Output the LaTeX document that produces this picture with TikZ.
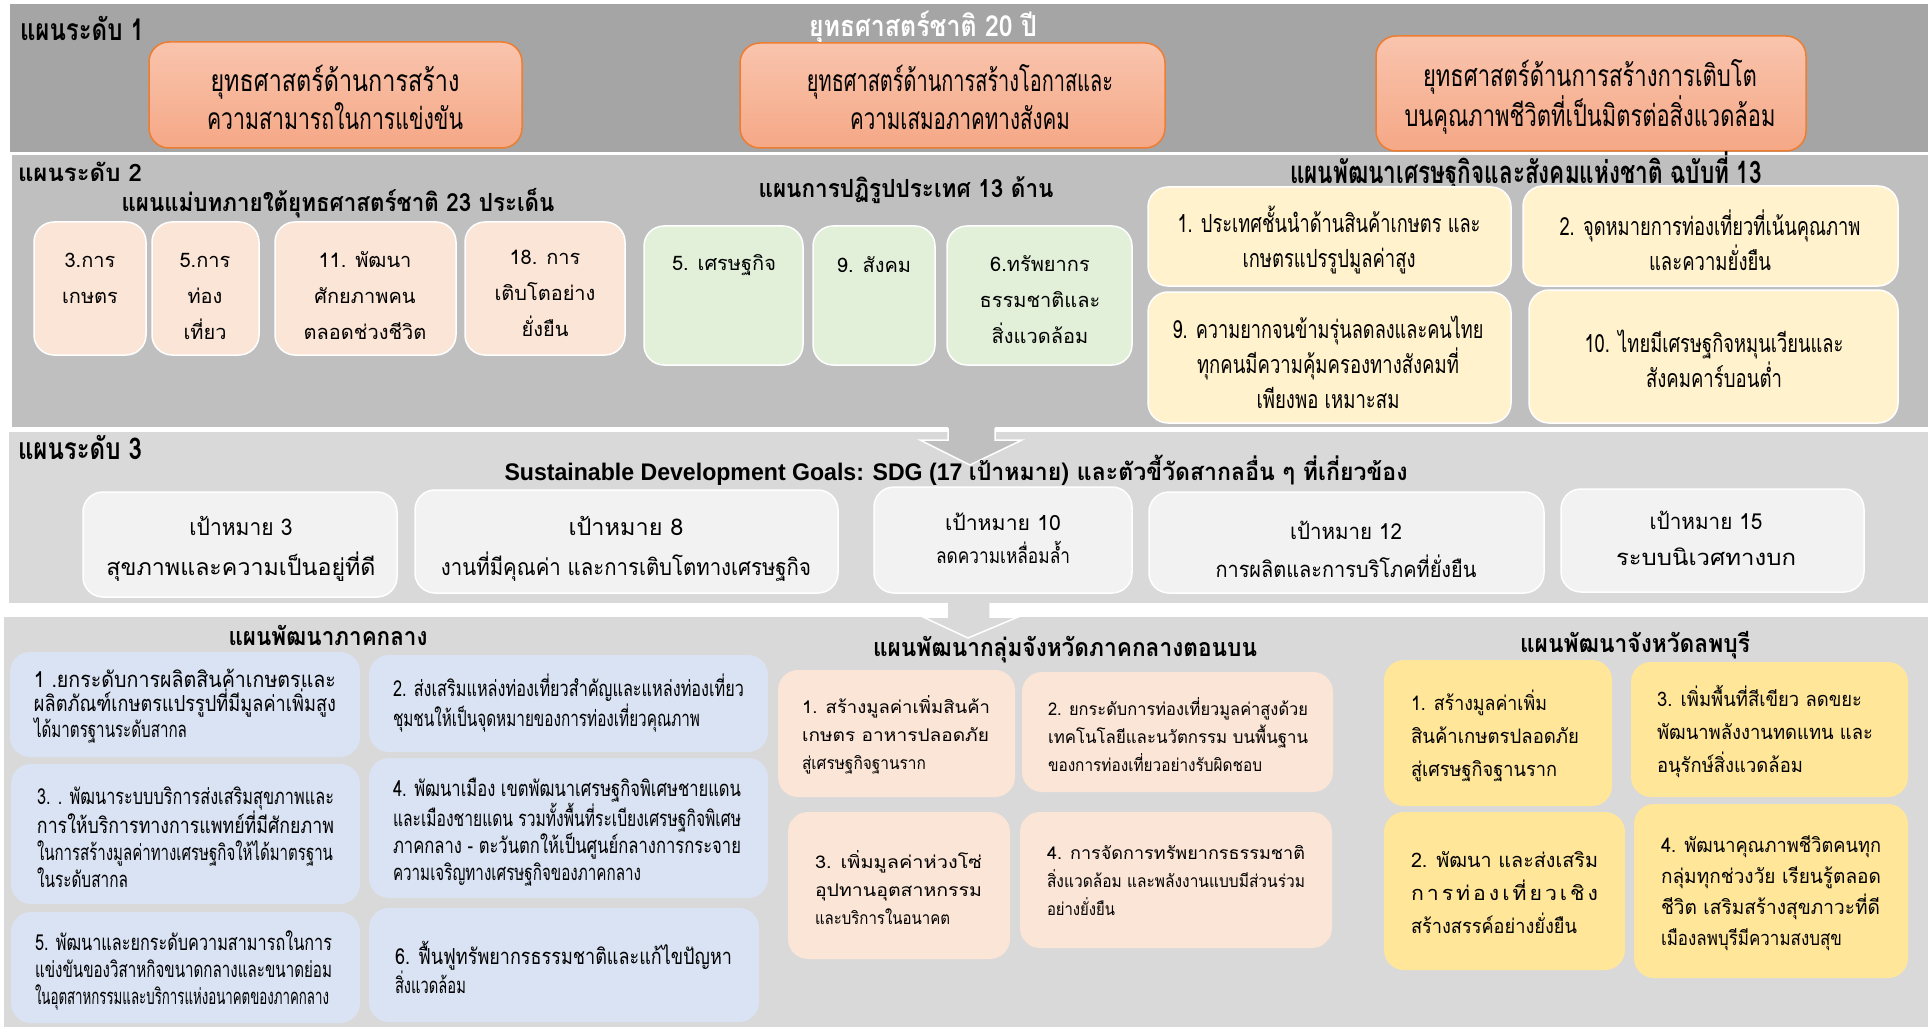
\documentclass[tikz,border=0pt]{standalone}
\usepackage{graphicx}
\usepackage{fontspec}
\setmainfont{Liberation Sans}
\newfontfamily\thR[Script=Thai]{Loma}
\newfontfamily\thN[Script=Thai,FakeStretch=0.8]{Loma}
\newfontfamily\thC[Script=Thai,FakeStretch=0.7]{Loma}
\newfontfamily\latS{Liberation Sans}
\newcommand\fn[3]{#1\fontsize{#2}{#3}\selectfont}
\newcommand\jl[2]{\resizebox{#1pt}{\height}{#2}}
\definecolor{lvA}{HTML}{A5A5A5}
\definecolor{lvB}{HTML}{BFBFBF}
\definecolor{lvC}{HTML}{D9D9D9}
\definecolor{orgline}{HTML}{ED7D31}
\definecolor{orgtop}{HTML}{F9C4AD}
\definecolor{orgbot}{HTML}{F5A886}
\definecolor{peach}{HTML}{FBE5D6}
\definecolor{greenc}{HTML}{E2F0D9}
\definecolor{yel}{HTML}{FFF2CC}
\definecolor{sdgc}{HTML}{F2F2F2}
\definecolor{bluec}{HTML}{DAE3F3}
\definecolor{gold}{HTML}{FFE699}
\newcommand\B[6]{\node[#2, minimum width=#5pt-#3pt, minimum height=#6pt-#4pt] (#1) at (#3,#4) {};}
\tikzset{
  band/.style={draw=none, inner sep=0pt, outer sep=0pt, anchor=north west},
  bx/.style={rounded corners=20pt, inner sep=0pt, outer sep=0pt, anchor=north west},
  obox/.style={bx, draw=orgline, line width=1.5pt, top color=orgtop, bottom color=orgbot},
  pbox/.style={bx, fill=peach, draw=white, line width=1.5pt},
  gbox/.style={bx, fill=greenc, draw=white, line width=1.5pt},
  ybox/.style={bx, fill=yel, draw=white, line width=1.5pt},
  sbox/.style={bx, fill=sdgc, draw=white, line width=1.5pt},
  bbox/.style={bx, fill=bluec},
  cbox/.style={bx, fill=peach},
  dbox/.style={bx, fill=gold},
  tx/.style={inner sep=0pt, outer sep=0pt, text=black},
  lt/.style={tx, anchor=west, align=left},
  ct/.style={tx, align=center},
  lv1txt/.style={ct, font={\fn\thN{30}{38}}},
  lv2txt/.style={ct, font={\fn\thR{20}{36}}},
  ytxt/.style={ct, font={\fn\thN{25}{35}}},
  s3txt/.style={ct, font={\fn\thR{22}{36}}},
  btxt/.style={lt, font={\fn\thC{22}{27}}},
  ctxt/.style={lt, font={\fn\thR{17.5}{28}}},
  dtxt/.style={lt, font={\fn\thR{20}{33}}},
  ttl/.style={tx, font={\fn\thR{25}{30}\bfseries}},
  lvlab/.style={tx, anchor=west, font={\fn\thN{30}{36}\bfseries}},
}
\begin{document}
\begin{tikzpicture}[x=1pt,y=-1pt]
\useasboundingbox (0,0) rectangle (1928,1027);
\fill[white] (0,0) rectangle (1928,1027);
% bands
\node[band, fill=lvA, minimum width=1918pt, minimum height=148pt] (L1) at (10,4) {};
\node[band, fill=lvB, minimum width=1916pt, minimum height=272pt] (L2) at (12,155) {};
\node[band, fill=lvC, minimum width=1919pt, minimum height=171pt] (L3) at (9,432) {};
\node[band, fill=lvC, minimum width=1924pt, minimum height=410pt] (L4) at (4,617) {};
% block arrows
\fill[lvB] (948,424) -- (948,440) -- (920,440) -- (970,465) -- (1022,440) -- (995,440) -- (995,424) -- cycle;
\draw[white, line width=1.5pt] (948,428) -- (948,440) -- (920,440) -- (970,465) -- (1022,440) -- (995,440) -- (995,428);
\fill[lvC] (947,600) -- (947,617) -- (923,617) -- (968,638) -- (1018,617) -- (990,617) -- (990,600) -- cycle;
\draw[white, line width=1.5pt] (947,603) -- (947,617) -- (923,617) -- (968,638) -- (1018,617) -- (990,617) -- (990,603);

% ---------- level 1
\node[lvlab] (lab1) at (20,28) {แผนระดับ 1};
\node[tx, text=white, font={\fn\thN{29}{36}\bfseries}] (tit1) at (923,28) {\jl{228}{ยุทธศาสตร์ชาติ 20 ปี}};
\B{a1}{obox}{149}{42}{522}{148}
\node[lv1txt] (a1t) at (335,97) {\jl{249}{ยุทธศาสตร์ด้านการสร้าง}\\\jl{256}{ความสามารถในการแข่งขัน}};
\B{a2}{obox}{740}{43}{1165}{148}
\node[lv1txt] (a2t) at (960,97) {\jl{306}{ยุทธศาสตร์ด้านการสร้างโอกาสและ}\\\jl{220}{ความเสมอภาคทางสังคม}};
\B{a3}{obox}{1376}{36}{1806}{151}
\node[lv1txt] (a3t) at (1590,97) {\jl{334}{ยุทธศาสตร์ด้านการสร้างการเติบโต}\\\jl{371}{บนคุณภาพชีวิตที่เป็นมิตรต่อสิ่งแวดล้อม}};

% ---------- level 2
\node[ttl, anchor=west, font={\fn\thR{24}{28}\bfseries}] (lab2) at (18,172) {แผนระดับ 2};
\node[ttl] (tm) at (338,203) {\jl{433}{แผนแม่บทภายใต้ยุทธศาสตร์ชาติ 23 ประเด็น}};
\B{p1}{pbox}{34}{222}{146}{355}
\node[lv2txt] (p1t) at (90,278) {3.การ\\เกษตร};
\B{p2}{pbox}{152}{222}{259}{355}
\node[lv2txt] (p2t) at (205,296) {5.การ\\ท่อง\\เที่ยว};
\B{p3}{pbox}{275}{222}{456}{355}
\node[lv2txt] (p3t) at (365,296) {11. พัฒนา\\ศักยภาพคน\\ตลอดช่วงชีวิต};
\B{p4}{pbox}{465}{222}{625}{355}
\node[lv2txt] (p4t) at (545,293) {18. การ\\เติบโตอย่าง\\ยั่งยืน};

\node[ttl] (tr) at (906,190) {\jl{295}{แผนการปฏิรูปประเทศ 13 ด้าน}};
\B{g1}{gbox}{644}{226}{803}{365}
\node[lv2txt] (g1t) at (724,265) {5. เศรษฐกิจ};
\B{g2}{gbox}{813}{226}{935}{365}
\node[lv2txt] (g2t) at (874,265) {9. สังคม};
\B{g3}{gbox}{947}{226}{1132}{365}
\node[lv2txt] (g3t) at (1040,300) {6.ทรัพยากร\\ธรรมชาติและ\\สิ่งแวดล้อม};

\node[tx, font={\fn\thN{31}{36}\bfseries}] (tn) at (1526,172) {\jl{472}{แผนพัฒนาเศรษฐกิจและสังคมแห่งชาติ ฉบับที่ 13}};
\B{y1}{ybox}{1148}{187}{1511}{286}
\node[ytxt] (y1t) at (1329,240) {\jl{303}{1. ประเทศชั้นนำด้านสินค้าเกษตร และ}\\\jl{173}{เกษตรแปรรูปมูลค่าสูง}};
\B{y2}{ybox}{1523}{186}{1898}{286}
\node[ytxt] (y2t) at (1710,240) {\jl{301}{2. จุดหมายการท่องเที่ยวที่เน้นคุณภาพ}\\\jl{122}{และความยั่งยืน}};
\B{y3}{ybox}{1148}{292}{1511}{423}
\node[ytxt] (y3t) at (1328,362) {\jl{311}{9. ความยากจนข้ามรุ่นลดลงและคนไทย}\\\jl{262}{ทุกคนมีความคุ้มครองทางสังคมที่}\\\jl{143}{เพียงพอ เหมาะสม}};
\B{y4}{ybox}{1529}{290}{1898}{423}
\node[ytxt] (y4t) at (1714,359) {\jl{259}{10. ไทยมีเศรษฐกิจหมุนเวียนและ}\\\jl{136}{สังคมคาร์บอนต่ำ}};

% ---------- level 3
\node[lvlab] (lab3) at (18,447) {แผนระดับ 3};
\node[tx, anchor=base, font={\fn\thR{24}{28}\bfseries}] (tsdg) at (956,480) {\jl{903}{{\latS Sustainable Development Goals: SDG (17 }เป้าหมาย) และตัวขี้วัดสากลอื่น ๆ ที่เกี่ยวข้อง}};
\B{q1}{sbox}{83}{492}{397}{597}
\node[s3txt, font={\fn\thR{23}{40}}] (q1t) at (241,549) {\jl{103}{เป้าหมาย 3}\\\jl{269}{สุขภาพและความเป็นอยู่ที่ดี}};
\B{q2}{sbox}{415}{490}{838}{593}
\node[s3txt, font={\fn\thR{23}{40}}] (q2t) at (626,549) {\jl{115}{เป้าหมาย 8}\\\jl{370}{งานที่มีคุณค่า และการเติบโตทางเศรษฐกิจ}};
\B{q3}{sbox}{874}{487}{1132}{593}
\node[s3txt, font={\fn\thR{21}{33}}] (q3t) at (1003,538) {\jl{116}{เป้าหมาย 10}\\\jl{134}{ลดความเหลื่อมล้ำ}};
\B{q4}{sbox}{1149}{492}{1544}{593}
\node[s3txt, font={\fn\thR{22}{38}}] (q4t) at (1346,549) {\jl{112}{เป้าหมาย 12}\\\jl{261}{การผลิตและการบริโภคที่ยั่งยืน}};
\B{q5}{sbox}{1561}{489}{1864}{592}
\node[s3txt] (q5t) at (1706,538) {\jl{113}{เป้าหมาย 15}\\\jl{180}{ระบบนิเวศทางบก}};

% ---------- bottom: central region plan
\node[ttl] (tb1) at (328,635) {\jl{199}{แผนพัฒนาภาคกลาง}};
\B{b1}{bbox}{10}{652}{360}{757}
\node[btxt, font={\fn\thC{22}{24}}] (b1t) at (34,706) {\jl{302}{1 .ยกระดับการผลิตสินค้าเกษตรและ}\\\jl{302}{ผลิตภัณฑ์เกษตรแปรรูปที่มีมูลค่าเพิ่มสูง}\\\jl{153}{ได้มาตรฐานระดับสากล}};
\B{b2}{bbox}{369}{655}{768}{752}
\node[btxt, font={\fn\thC{22}{30}}] (b2t) at (393,703) {\jl{351}{2. ส่งเสริมแหล่งท่องเที่ยวสำคัญและแหล่งท่องเที่ยว}\\\jl{307}{ชุมชนให้เป็นจุดหมายของการท่องเที่ยวคุณภาพ}};
\B{b3}{bbox}{11}{764}{360}{904}
\node[btxt] (b3t) at (37,837) {\jl{297}{3. . พัฒนาระบบบริการส่งเสริมสุขภาพและ}\\\jl{297}{การให้บริการทางการแพทย์ที่มีศักยภาพ}\\\jl{296}{ในการสร้างมูลค่าทางเศรษฐกิจให้ได้มาตรฐาน}\\\jl{91}{ในระดับสากล}};
\B{b4}{bbox}{369}{758}{768}{898}
\node[btxt] (b4t) at (393,832) {\jl{348}{4. พัฒนาเมือง เขตพัฒนาเศรษฐกิจพิเศษชายแดน}\\\jl{348}{และเมืองชายแดน รวมทั้งพื้นที่ระเบียงเศรษฐกิจพิเศษ}\\\jl{348}{ภาคกลาง - ตะวันตกให้เป็นศูนย์กลางการกระจาย}\\\jl{248}{ความเจริญทางเศรษฐกิจของภาคกลาง}};
\B{b5}{bbox}{11}{912}{360}{1023}
\node[btxt] (b5t) at (35,970) {\jl{297}{5. พัฒนาและยกระดับความสามารถในการ}\\\jl{297}{แข่งขันของวิสาหกิจขนาดกลางและขนาดย่อม}\\\jl{294}{ในอุตสาหกรรมและบริการแห่งอนาคตของภาคกลาง}};
\B{b6}{bbox}{369}{908}{759}{1022}
\node[btxt, font={\fn\thC{22}{29}}] (b6t) at (395,967) {\jl{337}{6. ฟื้นฟูทรัพยากรธรรมชาติและแก้ไขปัญหา}\\\jl{71}{สิ่งแวดล้อม}};

% ---------- bottom: upper central provinces group
\node[ttl] (tb2) at (1065,650) {\jl{384}{แผนพัฒนากลุ่มจังหวัดภาคกลางตอนบน}};
\B{c1}{cbox}{778}{670}{1015}{797}
\node[ctxt] (c1t) at (802,735) {\jl{188}{1. สร้างมูลค่าเพิ่มสินค้า}\\\jl{187}{เกษตร อาหารปลอดภัย}\\\jl{124}{สู่เศรษฐกิจฐานราก}};
\B{c2}{cbox}{1022}{672}{1333}{792}
\node[ctxt] (c2t) at (1048,735) {\jl{260}{2. ยกระดับการท่องเที่ยวมูลค่าสูงด้วย}\\\jl{260}{เทคโนโลยีและนวัตกรรม บนพื้นฐาน}\\\jl{214}{ของการท่องเที่ยวอย่างรับผิดชอบ}};
\B{c3}{cbox}{788}{812}{1010}{959}
\node[ctxt] (c3t) at (815,888) {\jl{167}{3. เพิ่มมูลค่าห่วงโซ่}\\\jl{167}{อุปทานอุตสาหกรรม}\\\jl{135}{และบริการในอนาคต}};
\B{c4}{cbox}{1020}{812}{1332}{948}
\node[ctxt] (c4t) at (1047,881) {\jl{258}{4. การจัดการทรัพยากรธรรมชาติ}\\\jl{258}{สิ่งแวดล้อม และพลังงานแบบมีส่วนร่วม}\\\jl{68}{อย่างยั่งยืน}};

% ---------- bottom: Lopburi
\node[ttl] (tb3) at (1635,645) {\jl{230}{แผนพัฒนาจังหวัดลพบุรี}};
\B{d1}{dbox}{1384}{660}{1612}{806}
\node[dtxt] (d1t) at (1411,736) {\jl{136}{1. สร้างมูลค่าเพิ่ม}\\\jl{168}{สินค้าเกษตรปลอดภัย}\\\jl{146}{สู่เศรษฐกิจฐานราก}};
\B{d3}{dbox}{1631}{662}{1908}{797}
\node[dtxt] (d3t) at (1657,732) {\jl{205}{3. เพิ่มพื้นที่สีเขียว ลดขยะ}\\\jl{216}{พัฒนาพลังงานทดแทน และ}\\\jl{146}{อนุรักษ์สิ่งแวดล้อม}};
\B{d2}{dbox}{1384}{812}{1625}{970}
\node[dtxt] (d2t) at (1411,893) {\jl{187}{2. พัฒนา และส่งเสริม}\\\jl{187}{\addfontfeatures{LetterSpace=14}การท่องเที่ยวเชิง}\\\jl{166}{สร้างสรรค์อย่างยั่งยืน}};
\B{d4}{dbox}{1634}{804}{1908}{978}
\node[dtxt, font={\fn\thR{20}{31}}] (d4t) at (1661,893) {\jl{220}{4. พัฒนาคุณภาพชีวิตคนทุก}\\\jl{220}{กลุ่มทุกช่วงวัย เรียนรู้ตลอด}\\\jl{219}{ชีวิต เสริมสร้างสุขภาวะที่ดี}\\\jl{181}{เมืองลพบุรีมีความสงบสุข}};
\end{tikzpicture}
\end{document}
